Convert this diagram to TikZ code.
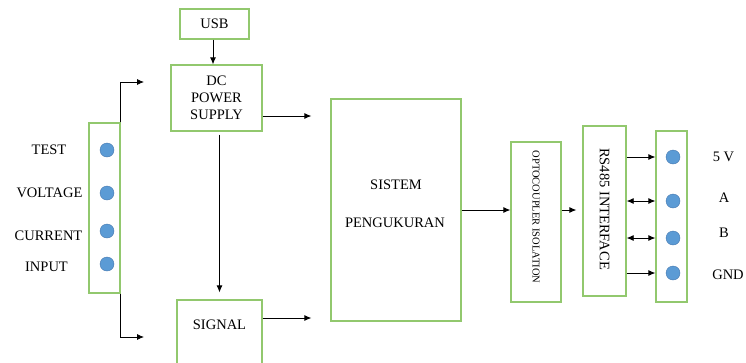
\documentclass[tikz,border=0pt]{standalone}
\usepackage{fontspec}
\setmainfont{Liberation Serif}
\usetikzlibrary{arrows.meta}

\definecolor{boxgreen}{RGB}{146,200,110}
\definecolor{pinblue}{RGB}{91,155,213}
\definecolor{pinedge}{RGB}{70,120,175}

\tikzset{
  blok/.style={draw=boxgreen, line width=1.3pt, fill=white, inner sep=0pt, font=\fontsize{14.5}{17}\selectfont},
  pin/.style={circle, fill=pinblue, draw=pinedge, line width=0.4pt, minimum size=14pt, inner sep=0pt},
  lbl/.style={font=\fontsize{14.5}{17}\selectfont, inner sep=0pt},
  arr/.style={->, >={Latex[length=7pt,width=6pt]}, line width=0.8pt}
}

\begin{document}
\begin{tikzpicture}[x=1pt, y=-1pt]
\useasboundingbox (0,0) rectangle (746,362);

%blocks
\node[blok, minimum width=69pt, minimum height=30pt] (usb) at (214.5,24) {USB};
\node[blok, minimum width=91pt, minimum height=66pt, align=center] (dcps) at (216.5,98) {DC\\POWER\\SUPPLY};
\node[blok, minimum width=85pt, minimum height=64pt] (signal) at (219.5,332) {};
\node[lbl] (signaltxt) at (219.5,325) {SIGNAL};
\node[blok, minimum width=130pt, minimum height=222pt] (sistem) at (396,210) {};
\node[lbl] (sistemtxt) at (396,185) {SISTEM};
\node[lbl] (pengtxt) at (395,223) {PENGUKURAN};
\node[blok, minimum width=50pt, minimum height=160pt] (opto) at (536,222) {};
\node[lbl, rotate=-90, font=\fontsize{10.5}{12}\selectfont] (optotxt) at (536,217) {OPTOCOUPLER ISOLATION};
\node[blok, minimum width=43pt, minimum height=170pt] (rs485) at (604.5,211) {};
\node[lbl, rotate=-90] (rstxt) at (604.5,209) {RS485 INTERFACE};

%input terminal
\node[blok, minimum width=31pt, minimum height=170pt] (inbox) at (104.5,208) {};
\node[pin] (i1) at (107,150) {};
\node[pin] (i2) at (107,193) {};
\node[pin] (i3) at (107,231) {};
\node[pin] (i4) at (107,264) {};
\node[lbl] (ltest) at (49,150) {TEST};
\node[lbl] (lvolt) at (49.5,193) {VOLTAGE};
\node[lbl] (lcurr) at (48.5,236) {CURRENT};
\node[lbl] (linp) at (46.5,267) {INPUT};

%output terminal
\node[blok, minimum width=31pt, minimum height=171pt] (term) at (671.5,216.5) {};
\node[pin] (t1) at (673,157) {};
\node[pin] (t2) at (673,201) {};
\node[pin] (t3) at (673,238) {};
\node[pin] (t4) at (673,273) {};
\node[lbl] (l5v) at (723.5,157) {5 V};
\node[lbl] (la) at (724,198) {A};
\node[lbl] (lb) at (724,233) {B};
\node[lbl] (lgnd) at (728,275) {GND};

%connectors
\coordinate (intop) at (144,82);
\coordinate (inbot) at (144,337);
\coordinate (dcout) at ([yshift=-18pt]dcps.east);
\coordinate (sigout) at ([yshift=14pt]signal.east);

\draw[arr] (usb.south -| 213,0) -- (dcps.north -| 213,0);
\draw[arr] (inbox.north east) |- (intop);
\draw[arr] (inbox.south east) |- (inbot);
\draw[arr, shorten >=19pt] (dcout) -- (dcout -| sistem.west);
\draw[arr, shorten <=3pt, shorten >=7pt] (signal.north |- dcps.south) -- (signal.north);
\draw[arr, shorten >=19pt] (sigout) -- (sigout -| sistem.west);
\draw[arr] (sistem.east) -- (sistem.east -| opto.west);
\draw[arr, shorten >=6pt] (opto.east |- sistem.east) -- (rs485.west |- sistem.east);
\draw[arr] (rs485.east |- t1) -- (t1 -| term.west);
\draw[arr, <->] (rs485.east |- t2) -- (t2 -| term.west);
\draw[arr, <->] (rs485.east |- t3) -- (t3 -| term.west);
\draw[arr] (rs485.east |- t4) -- (t4 -| term.west);

\end{tikzpicture}
\end{document}
